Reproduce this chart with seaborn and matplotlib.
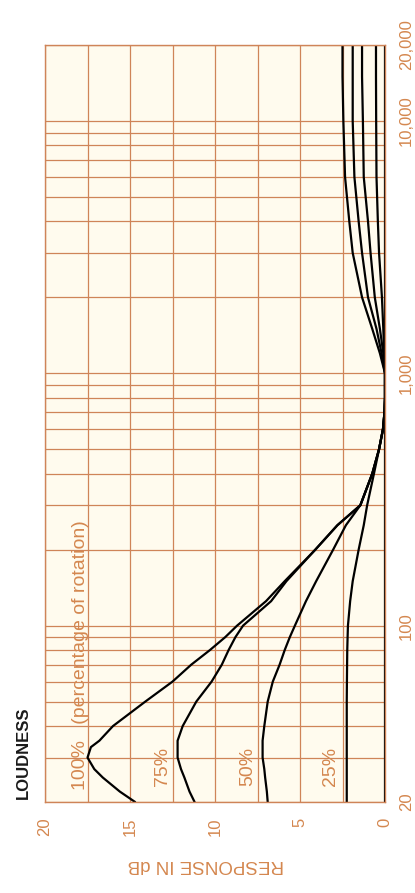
import numpy as np
import pandas as pd
import seaborn as sns
from matplotlib import pyplot as plt
from matplotlib.ticker import FixedLocator, NullFormatter

# frequency points (Hz) and response (dB)
freq = [20, 22, 25, 27, 30, 33, 35, 40, 50, 60, 70, 80, 90, 100, 125, 150, 200,
        250, 300, 400, 500, 600, 700, 800, 1000, 1200, 1500, 2000, 3000, 4000,
        6000, 10000, 15000, 20000]
db_100 = [14.7, 15.6, 16.6, 17.1, 17.5, 17.3, 16.8, 16.0, 14.1, 12.5, 11.4, 10.3,
          9.4, 8.7, 7.0, 5.9, 4.1, 2.8, 1.45, 0.75, 0.35, 0.12, 0.03, 0.0, 0.0,
          0.3, 0.75, 1.35, 1.9, 2.1, 2.35, 2.45, 2.5, 2.5]
db_75 = [11.2, 11.5, 11.8, 12.0, 12.2, 12.2, 12.2, 11.9, 11.1, 10.2, 9.6, 9.2,
         8.8, 8.35, 6.7, 5.8, 4.1, 2.8, 1.45, 0.75, 0.35, 0.12, 0.03, 0.0, 0.0,
         0.2, 0.5, 1.0, 1.35, 1.55, 1.8, 1.9, 1.9, 1.9]
db_50 = [6.9, 6.95, 7.05, 7.1, 7.2, 7.2, 7.2, 7.1, 6.9, 6.6, 6.2, 5.9, 5.6, 5.3,
         4.65, 4.05, 3.05, 2.3, 1.45, 0.75, 0.35, 0.12, 0.03, 0.0, 0.0, 0.1, 0.3,
         0.6, 0.85, 1.0, 1.25, 1.3, 1.35, 1.35]
db_25 = [2.25, 2.25, 2.25, 2.25, 2.25, 2.25, 2.25, 2.25, 2.25, 2.24, 2.23, 2.22,
         2.2, 2.18, 2.05, 1.9, 1.55, 1.25, 1.05, 0.65, 0.35, 0.12, 0.03, 0.0, 0.0,
         0.05, 0.1, 0.18, 0.35, 0.42, 0.5, 0.52, 0.53, 0.53]
db_0 = [0.0] * len(freq)

settings = ['100%', '75%', '50%', '25%', '0%']
curves = [db_100, db_75, db_50, db_25, db_0]

df = pd.concat([pd.DataFrame({'freq': freq, 'dB': c, 'setting': s})
                for s, c in zip(settings, curves)], ignore_index=True)

db_ticks = [0, 5, 10, 15, 20]
freq_ticks = [20, 100, 1000, 10000, 20000]
freq_labels = ['20', '100', '1,000', '10,000', '20,000']
freq_minor = [30, 40, 50, 60, 70, 80, 90, 200, 300, 400, 500, 600, 700, 800, 900,
              2000, 3000, 4000, 5000, 6000, 7000, 8000, 9000]

orange = '#d4874f'
gridc = '#cf8458'

sns.set_style('white')
plt.rcParams['font.family'] = ['Liberation Sans', 'DejaVu Sans']

fig = plt.figure(figsize=(4.15, 8.93), dpi=100)
ax = fig.add_axes([45 / 415, 91 / 893, 340 / 415, 757 / 893])
ax.set_facecolor('#fffbee')

sns.lineplot(data=df, x='dB', y='freq', units='setting', estimator=None,
             sort=False, color='black', linewidth=1.6, ax=ax)

ax.set_yscale('log')
ax.set_ylim(20, 20000)
ax.set_xlim(20, 0)

ax.set_xticks(db_ticks)
ax.set_xticklabels([str(t) for t in db_ticks], rotation=90)
ax.xaxis.set_minor_locator(FixedLocator([2.5, 7.5, 12.5, 17.5]))

ax.yaxis.tick_right()
ax.set_yticks(freq_ticks)
ax.set_yticklabels(freq_labels, rotation=90, va='center')
ax.yaxis.set_minor_locator(FixedLocator(freq_minor))
ax.yaxis.set_minor_formatter(NullFormatter())

ax.tick_params(which='both', length=0, colors=orange, labelsize=12)
ax.tick_params(axis='x', pad=11)
ax.tick_params(axis='y', pad=10)
ax.grid(True, which='both', color=gridc, linewidth=0.9)
for sp in ax.spines.values():
    sp.set_color(gridc)
    sp.set_linewidth(1.0)
ax.set_xlabel('')
ax.set_ylabel('')
if ax.get_legend():
    ax.get_legend().remove()

# curve annotations
ax.text(17.9, 22.4, '100%   (percentage of rotation)', rotation=90, ha='center',
        va='bottom', color=orange, fontsize=14)
ax.text(13.1, 23.2, '75%', rotation=90, ha='center', va='bottom', color=orange, fontsize=14)
ax.text(8.1, 23.2, '50%', rotation=90, ha='center', va='bottom', color=orange, fontsize=14)
ax.text(3.2, 23.2, '25%', rotation=90, ha='center', va='bottom', color=orange, fontsize=14)

fig.text(23.5 / 415, 1 - 753 / 893, 'LOUDNESS', rotation=90, ha='center', va='center',
         color='#1a1a1a', fontsize=12, fontweight='bold')
fig.text(206 / 415, 1 - 865 / 893, 'RESPONSE IN dB', rotation=180, ha='center',
         va='center', color=orange, fontsize=13.5)

fig.savefig('out.png', dpi=100, facecolor='white')
